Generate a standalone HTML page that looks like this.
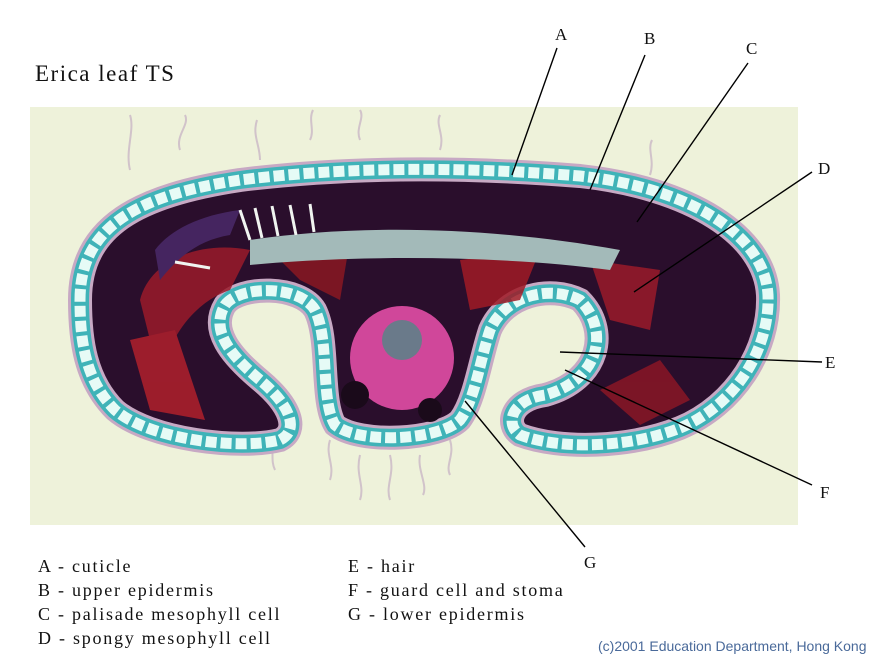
<!DOCTYPE html>
<html><head><meta charset="utf-8"><style>
body{margin:0;background:#fff;width:880px;height:663px;overflow:hidden;position:relative;font-family:"Liberation Serif",serif}
.t{position:absolute;font-size:18px;color:#111;letter-spacing:1.75px;white-space:nowrap}
</style></head><body>
<svg width="880" height="663" style="position:absolute;left:0;top:0">
<defs>
<path id="leaf" d="M80,300 C80,225 140,195 240,180 C360,165 480,168 580,176 C690,188 765,235 768,295 C770,350 735,405 680,428 C630,448 560,450 520,435 C505,425 510,400 545,395 C600,380 610,330 580,300 C550,285 505,295 490,330 C480,360 475,400 460,420 C440,440 360,445 335,425 C320,400 330,340 315,310 C300,285 240,285 225,305 C210,330 230,355 260,380 C290,405 300,430 280,440 C240,450 150,440 115,410 C85,380 80,340 80,300 Z"/>
</defs>
<rect x="30" y="107" width="768" height="418" fill="#eef2da"/>
<g stroke="#c9b6c6" stroke-width="2" fill="none" opacity="0.8">
<path d="M130,170 c-5,-20 5,-40 0,-55 M180,150 c-5,-15 10,-25 5,-35 M260,160 c0,-15 -8,-25 -3,-40 M310,140 c5,-10 -2,-20 3,-30 M360,140 c-5,-12 5,-22 0,-30 M440,150 c5,-15 -5,-25 0,-35 M650,175 c5,-15 -3,-25 2,-35 M360,455 c-5,20 5,30 0,45 M390,455 c5,20 -5,30 0,45 M420,455 c-3,15 8,30 3,40 M450,440 c5,15 -5,25 0,35 M270,440 c5,10 0,20 5,30 M330,440 c-5,15 5,25 0,40"/>
</g>
<use href="#leaf" fill="#2a0e2c" stroke="#c7a9c4" stroke-width="24"/>
<use href="#leaf" fill="none" stroke="#3fb3b8" stroke-width="18"/>
<use href="#leaf" fill="none" stroke="#e6fbf6" stroke-width="11" stroke-dasharray="11 4"/>
<g opacity="0.85">
<path d="M140,300 C150,260 200,240 250,250 L230,290 C200,300 170,330 160,380 Z" fill="#9a1a2a"/>
<path d="M130,340 L175,330 L205,420 L150,410 Z" fill="#b0202c"/>
<path d="M270,250 L350,240 L340,300 L300,280 Z" fill="#8a1822"/>
<path d="M460,260 L540,250 L520,300 L470,310 Z" fill="#a01a26"/>
<path d="M590,260 L660,270 L650,330 L610,320 Z" fill="#9a1a2a"/>
<path d="M600,390 L660,360 L690,400 L640,425 Z" fill="#8a1626"/>
<path d="M250,240 C350,225 480,225 620,250 L610,270 C500,255 350,255 250,265 Z" fill="#b9d9d2"/>
<path d="M155,250 C170,230 200,215 240,210 L230,235 C200,240 180,255 160,280 Z" fill="#4a2a6a"/>
</g>
<g stroke="#f0f4f0" stroke-width="3">
<path d="M240,210 L250,240 M255,208 L262,238 M272,206 L278,236 M290,205 L296,235 M310,204 L314,232 M175,262 L210,268"/>
</g>
<circle cx="402" cy="358" r="52" fill="#d0479a"/>
<circle cx="402" cy="340" r="20" fill="#6a7a8a"/>
<circle cx="355" cy="395" r="14" fill="#1a0a1a"/>
<circle cx="430" cy="410" r="12" fill="#1a0a1a"/>
<g stroke="#000" stroke-width="1.4">
<line x1="557" y1="48" x2="512" y2="175"/>
<line x1="645" y1="55" x2="590" y2="190"/>
<line x1="748" y1="63" x2="637" y2="222"/>
<line x1="812" y1="172" x2="634" y2="292"/>
<line x1="822" y1="362" x2="560" y2="352"/>
<line x1="812" y1="485" x2="565" y2="370"/>
<line x1="585" y1="547" x2="465" y2="401"/>
</g>
<g font-family="Liberation Serif,serif" font-size="17" fill="#111">
<text x="555" y="40">A</text><text x="644" y="44">B</text><text x="746" y="54">C</text>
<text x="818" y="174">D</text><text x="825" y="368">E</text><text x="820" y="498">F</text><text x="584" y="568">G</text>
</g>
</svg>
<div class="t" style="left:35px;top:61px;font-size:23px;letter-spacing:1.5px">Erica leaf TS</div>
<div class="t" style="left:38px;top:556px">A - cuticle</div>
<div class="t" style="left:38px;top:580px">B - upper epidermis</div>
<div class="t" style="left:38px;top:604px">C - palisade mesophyll cell</div>
<div class="t" style="left:38px;top:628px">D - spongy mesophyll cell</div>
<div class="t" style="left:348px;top:556px">E - hair</div>
<div class="t" style="left:348px;top:580px">F - guard cell and stoma</div>
<div class="t" style="left:348px;top:604px">G - lower epidermis</div>
<div class="t" style="left:598px;top:638px;font-family:'Liberation Sans',sans-serif;font-size:14px;color:#4a6a9a;letter-spacing:0">(c)2001 Education Department, Hong Kong</div>
</body></html>
